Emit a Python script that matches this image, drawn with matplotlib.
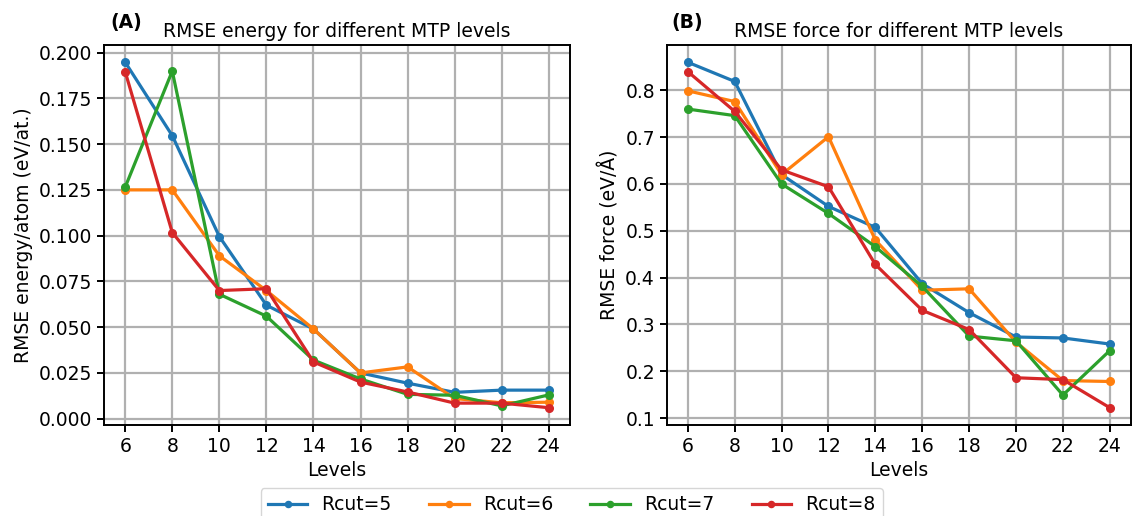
import numpy as np
import matplotlib.pyplot as plt
plt.switch_backend('Agg')

# Niveles MTP y errores RMSE por radio de corte
levels = [6, 8, 10, 12, 14, 16, 18, 20, 22, 24]
rcut_labels = ["Rcut=5", "Rcut=6", "Rcut=7", "Rcut=8"]

energy_r5 = [0.1947, 0.1546, 0.0995, 0.062, 0.049, 0.025, 0.0194, 0.0144, 0.0156, 0.0156]
energy_r6 = [0.125, 0.125, 0.089, 0.070, 0.049, 0.025, 0.0283, 0.011, 0.0087, 0.009]
energy_r7 = [0.1265, 0.1899, 0.068, 0.056, 0.032, 0.0217, 0.0133, 0.0128, 0.007, 0.013]
energy_r8 = [0.1895, 0.1017, 0.070, 0.071, 0.031, 0.020, 0.0146, 0.0085, 0.0085, 0.006]

force_r5 = [0.860, 0.819, 0.620, 0.552, 0.507, 0.387, 0.325, 0.273, 0.271, 0.258]
force_r6 = [0.799, 0.776, 0.620, 0.701, 0.480, 0.373, 0.376, 0.262, 0.180, 0.178]
force_r7 = [0.760, 0.746, 0.600, 0.537, 0.466, 0.381, 0.275, 0.265, 0.149, 0.244]
force_r8 = [0.840, 0.755, 0.630, 0.594, 0.428, 0.330, 0.289, 0.186, 0.182, 0.122]

energy_data = [energy_r5, energy_r6, energy_r7, energy_r8]
force_data = [force_r5, force_r6, force_r7, force_r8]
colors = ["#1f77b4", "#ff7f0e", "#2ca02c", "#d62728"]

plt.rcParams['font.size'] = 13.5

fig = plt.figure(figsize=(11.32, 5.16), dpi=100)
ax1 = fig.add_axes([0.0919, 0.1764, 0.4116, 0.7364])
ax2 = fig.add_axes([0.589, 0.1764, 0.410, 0.7364])

for vals, col, lab in zip(energy_data, colors, rcut_labels):
    ax1.plot(levels, vals, '-o', color=col, lw=2.3, ms=5.5, label=lab)
for vals, col, lab in zip(force_data, colors, rcut_labels):
    ax2.plot(levels, vals, '-o', color=col, lw=2.3, ms=5.5, label=lab)

ax1.set_title("RMSE energy for different MTP levels", fontsize=13.5)
ax1.set_ylabel("RMSE energy/atom (eV/at.)")
ax1.set_yticks(np.arange(0, 0.201, 0.025))
ax1.yaxis.set_major_formatter(plt.FormatStrFormatter('%.3f'))
ax1.text(0.013, 1.045, "(A)", transform=ax1.transAxes, fontweight='bold', va='baseline')

ax2.set_title("RMSE force for different MTP levels", fontsize=13.5)
ax2.set_ylabel("RMSE force (eV/Å)")
ax2.set_yticks(np.arange(0.1, 0.81, 0.1))
ax2.text(0.011, 1.045, "(B)", transform=ax2.transAxes, fontweight='bold', va='baseline')

for ax in (ax1, ax2):
    ax.set_xlabel("Levels")
    ax.set_xticks(levels)
    ax.grid(True, color='#b0b0b0', lw=1.6)
    for s in ax.spines.values():
        s.set_linewidth(1.4)
    ax.tick_params(width=1.4, length=5)

# Leyenda compartida debajo de ambos paneles
handles, labels = ax1.get_legend_handles_labels()
fig.legend(handles, labels, loc='upper center', ncol=4, bbox_to_anchor=(0.505, 1 - 488 / 516),
           frameon=True, columnspacing=2.0, handlelength=2.1, handletextpad=0.75,
           borderaxespad=0.0, markerscale=0.8)

fig.savefig("out.png", dpi=100)
